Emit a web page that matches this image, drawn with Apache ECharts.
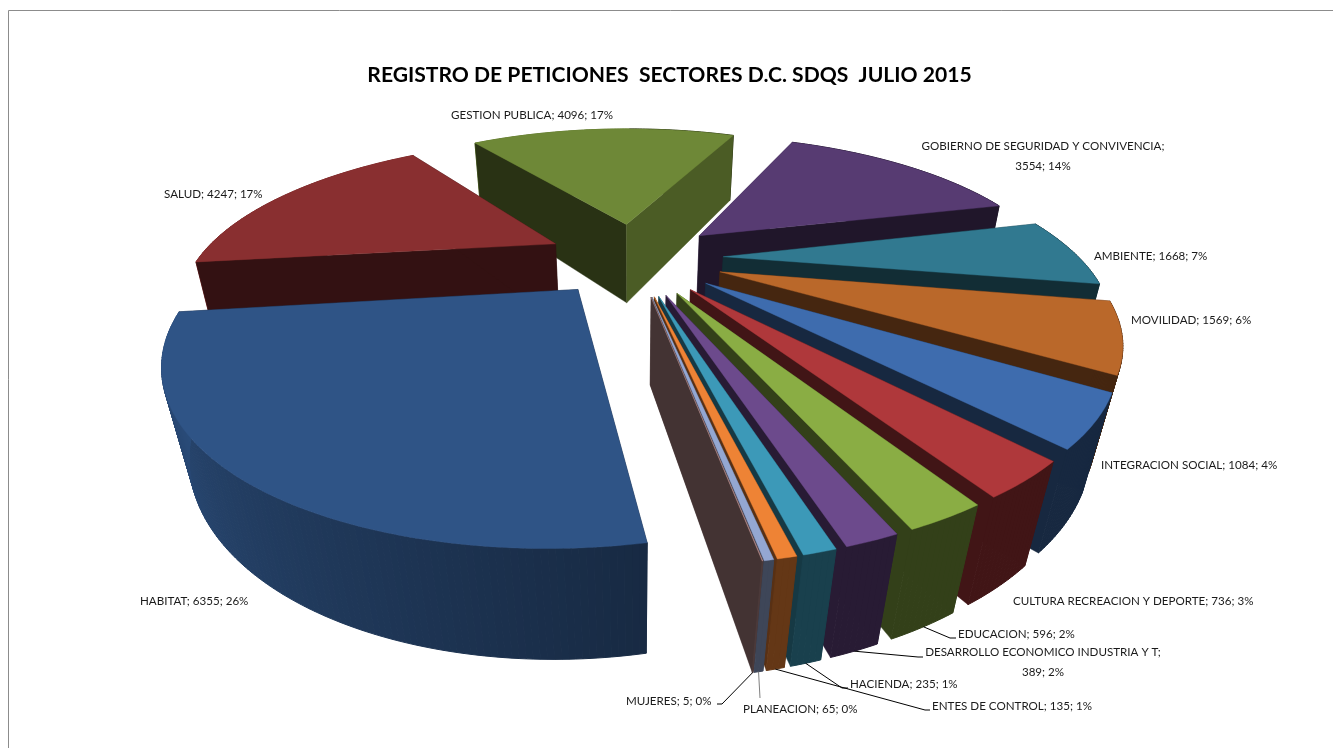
<!DOCTYPE html>
<html>
<head>
<meta charset="utf-8">
<style>html,body{margin:0;padding:0;background:#fff}#chart{width:1333px;height:748px}</style>
<script src="https://cdn.jsdelivr.net/npm/echarts@6/dist/echarts.min.js"></script>
</head>
<body>
<div id="chart"></div>
<script>
// Petitions per sector, clockwise starting at HABITAT
const sectors = ['HABITAT','SALUD','GESTION PUBLICA','GOBIERNO DE SEGURIDAD Y CONVIVENCIA','AMBIENTE','MOVILIDAD','INTEGRACION SOCIAL','CULTURA RECREACION Y DEPORTE','EDUCACION','DESARROLLO ECONOMICO INDUSTRIA Y T','HACIENDA','ENTES DE CONTROL','PLANEACION','MUJERES'];
const peticiones = [6355,4247,4096,3554,1668,1569,1084,736,596,389,235,135,65,5];
const porcentajes = [26,17,17,14,7,6,4,3,2,2,1,1,0,0];
const colores = ['#2F5486','#892F30','#6E8837','#573B72','#317990','#BA682A','#3E6CAE','#AF383B','#8AAD44','#6C4A8C','#3C99B8','#EE8335','#94A7D2','#B48A8A'];

// Label placement: x, y, alignment; knee/end describe the leader line, when there is one
const etiquetas = {
  'HABITAT': {x:140,y:601},
  'SALUD': {x:164,y:194},
  'GESTION PUBLICA': {x:451,y:115},
  'GOBIERNO DE SEGURIDAD Y CONVIVENCIA': {x:1043,y:156,align:'center',lines:['GOBIERNO DE SEGURIDAD Y CONVIVENCIA;','3554; 14%']},
  'AMBIENTE': {x:1094,y:256},
  'MOVILIDAD': {x:1131,y:320},
  'INTEGRACION SOCIAL': {x:1101,y:465},
  'CULTURA RECREACION Y DEPORTE': {x:1013,y:601},
  'EDUCACION': {x:958,y:634,leader:[[950,638],[956,638]]},
  'DESARROLLO ECONOMICO INDUSTRIA Y T': {x:1043,y:662,align:'center',lines:['DESARROLLO ECONOMICO INDUSTRIA Y T;','389; 2%'],leader:[[918,657],[923,657]]},
  'HACIENDA': {x:850,y:684,leader:[[842,688],[848,688]]},
  'ENTES DE CONTROL': {x:932,y:706,leader:[[925,710],[930,710]]},
  'PLANEACION': {x:743,y:709,leader:[[760,698]],stroke:'#808080'},
  'MUJERES': {x:626,y:701,leader:[[722,704],[717,704]]}
};

// Camera model of the pie: pie plane radius 1, Y pointing away from the viewer
const view = {cx:634.5,cy:258,A:356,B:146,C:87,k:0.33,m:0.05,explode:0.25,start:170.2};
const rad = d => d*Math.PI/180;
function project(X,Y,d){
  const w = 1 + view.k*Y + view.m*d;
  return [view.cx + view.A*X/w, view.cy - (view.B*Y - view.C*d)/w];
}
function shade(hex,f){
  const n = parseInt(hex.slice(1),16);
  const c = s => Math.round(((n>>s)&255)*f);
  return 'rgb('+c(16)+','+c(8)+','+c(0)+')';
}
// Lighting of the outer wall and of the radial cut faces
function rimShade(t){
  const a = ((t%360)+360)%360;
  if(a<=view.start-6.5) return 0.37;
  if(a<=view.start) return 0.42;
  return Math.min(0.92,0.5+0.42*(a-view.start)/85);
}
function wallShade(t){
  const a = ((t%360)+360)%360;
  return a>0 && a<40 ? 0.68 : 0.37;
}

const total = peticiones.reduce((a,b)=>a+b,0);
let acumulado = 0;
// Wedges are listed back to front so nearer ones paint over farther ones
const filas = sectors.map((s,i)=>{
  const a0 = view.start + acumulado/total*360;
  acumulado += peticiones[i];
  const a1 = view.start + acumulado/total*360;
  return {name:s,value:[peticiones[i],a0,a1,i]};
}).sort((p,q)=>Math.cos(rad((q.value[1]+q.value[2])/2))-Math.cos(rad((p.value[1]+p.value[2])/2)));

function poly(points,fill,sw){
  return {type:'polygon',shape:{points},silent:true,style:{fill,stroke:fill,lineWidth:sw===undefined?1:sw}};
}
function renderWedge(params,api){
  const a0 = api.value(1), a1 = api.value(2), color = colores[api.value(3)];
  const bis = rad((a0+a1)/2);
  const ox = view.explode*Math.sin(bis), oy = view.explode*Math.cos(bis);
  const P = (t,r,d)=>project(ox+r*Math.sin(rad(t)),oy+r*Math.cos(rad(t)),d);
  const steps = Math.max(1,Math.ceil((a1-a0)/0.75));
  const backRim=[],frontRim=[],arc=[];
  for(let i=0;i<=steps;i++) arc.push(a0+(a1-a0)*i/steps);
  for(let i=0;i<steps;i++){
    const u=arc[i],v=arc[i+1],mid=(u+v)/2;
    const q=poly([P(u,1,0),P(v,1,0),P(v,1,1),P(u,1,1)],shade(color,rimShade(mid)));
    (Math.cos(rad(mid))>-0.2?backRim:frontRim).push(q);
  }
  const walls=[
    poly([P(a0,0,0),P(a0,1,0),P(a0,1,1),P(a0,0,1)],shade(color,wallShade(a0)),0.4),
    poly([P(a1,0,0),P(a1,1,0),P(a1,1,1),P(a1,0,1)],shade(color,wallShade(a1)),0.4)
  ];
  const top=[P(a0,0,0)].concat(arc.map(t=>P(t,1,0)));
  return {type:'group',children:backRim.concat(walls,frontRim,[poly(top,color,0.4)])};
}
function renderLabel(params,api){
  const i = api.value(3), a0 = api.value(1), a1 = api.value(2);
  const name = sectors[i], cfg = etiquetas[name];
  const children=[];
  const lines = cfg.lines || [name+'; '+peticiones[i]+'; '+porcentajes[i]+'%'];
  lines.forEach((t,n)=>{
    const y = cfg.y + (n-(lines.length-1)/2)*19.5;
    children.push({type:'text',silent:true,style:{text:t,x:cfg.x,y,fill:'#1a1a1a',font:'11.6px Lato',align:cfg.align||'left',verticalAlign:'middle'}});
  });
  if(cfg.leader){
    const mid=(a0+a1)/2, bis=rad(mid);
    const X=(view.explode+1)*Math.sin(bis), Y=(view.explode+1)*Math.cos(bis);
    children.push({type:'polyline',silent:true,shape:{points:[project(X,Y,1)].concat(cfg.leader)},style:{fill:null,stroke:cfg.stroke||'#000',lineWidth:1}});
  }
  return {type:'group',children};
}

const chart = echarts.init(document.getElementById('chart'),null,{renderer:'canvas'});
chart.setOption({
  animation:false,
  backgroundColor:'#fff',
  title:{text:'REGISTRO DE PETICIONES  SECTORES D.C. SDQS  JULIO 2015',left:664.5,top:60,textAlign:'center',textStyle:{fontFamily:'Lato',fontWeight:'bold',fontSize:21.1,color:'#000'}},
  graphic:[{type:'polyline',silent:true,shape:{points:[[8.5,748],[8.5,10.5],[1333,10.5]]},style:{fill:null,stroke:'#8c8c8c',lineWidth:1}}],
  series:[
    {type:'custom',coordinateSystem:'none',renderItem:renderWedge,data:filas,silent:true,z:2},
    {type:'custom',coordinateSystem:'none',renderItem:renderLabel,data:filas,silent:true,z:3}
  ]
});
</script>
</body>
</html>
